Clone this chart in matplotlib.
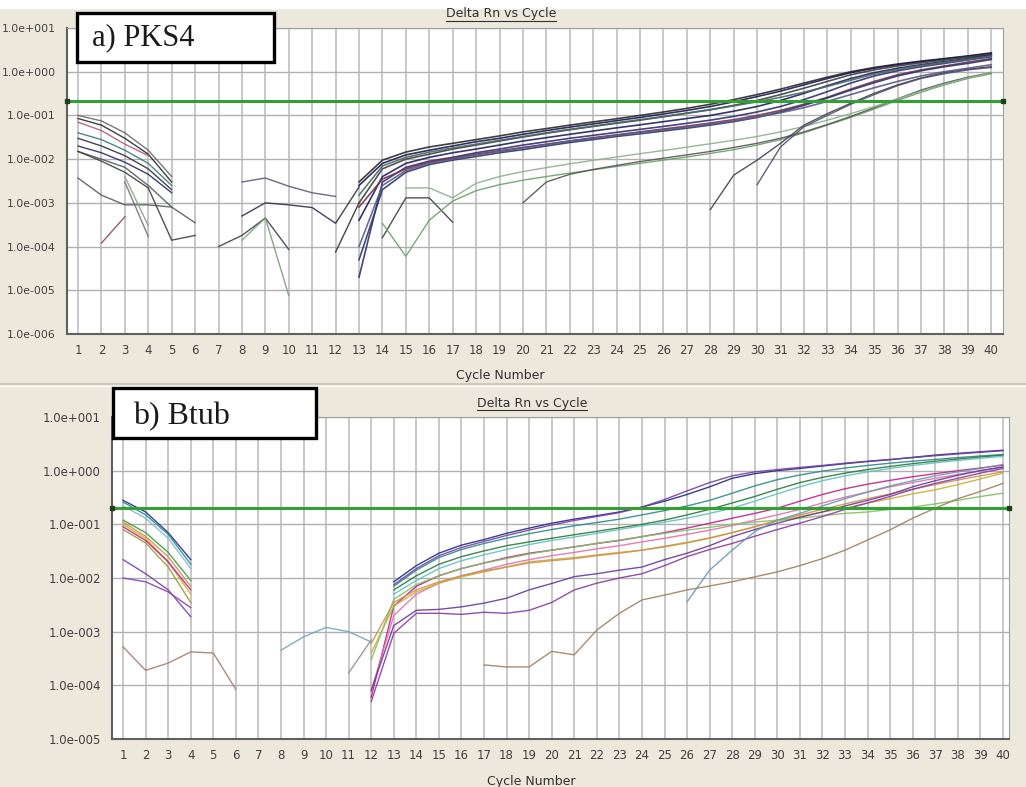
import matplotlib
matplotlib.use("Agg")
import matplotlib.pyplot as plt
from matplotlib.lines import Line2D
from matplotlib.patches import Rectangle
import numpy as np

W, H = 1026, 787

# ---- data: (first cycle, Delta Rn values) ----
cycles = np.arange(1, 41)
threshold_pks4 = 0.21
threshold_btub = 0.20

pks4_early = [
    (1, [0.10, 0.075, 0.040, 0.016, 0.004]),
    (1, [0.085, 0.060, 0.030, 0.013, 0.003]),
    (1, [0.070, 0.045, 0.022, 0.012]),
    (1, [0.040, 0.028, 0.016, 0.008, 0.0025]),
    (1, [0.030, 0.020, 0.012, 0.006, 0.0020]),
    (1, [0.020, 0.014, 0.0085, 0.0045, 0.0017]),
    (1, [0.015, 0.010, 0.0065, 0.0025, 0.0008]),
    (1, [0.0037, 0.0015, 0.0009, 0.0009, 0.0008, 0.00035]),
    (1, [0.015, 0.009, 0.005, 0.0022, 0.00014, 0.00018]),
    (3, [0.004, 0.0003]),
    (3, [0.003, 0.00017]),
    (2, [0.00012, 0.00048]),
]
pks4_middle = [
    (7, [0.0001, 0.00018, 0.00045, 0.000086]),
    (8, [0.00014, 0.00045, 0.0000076]),
    (8, [0.0005, 0.0010, 0.0009, 0.00078, 0.00034, 0.0023]),
    (8, [0.003, 0.0037, 0.0024, 0.0017, 0.0014]),
    (12, [0.000075, 0.0010]),
    (14, [0.00016, 0.0013, 0.0013, 0.00036]),
]
pks4_main = [
    (13, [0.0030, 0.0095, 0.0145, 0.019, 0.023, 0.028, 0.034, 0.042, 0.050, 0.060, 0.071, 0.084, 0.100, 0.120,
          0.145, 0.180, 0.230, 0.300, 0.400, 0.550, 0.750, 1.000, 1.250, 1.500, 1.750, 2.000, 2.300, 2.700]),
    (13, [0.0025, 0.0080, 0.0125, 0.016, 0.020, 0.025, 0.030, 0.037, 0.045, 0.054, 0.064, 0.076, 0.090, 0.108,
          0.130, 0.160, 0.205, 0.270, 0.360, 0.500, 0.700, 0.950, 1.200, 1.450, 1.700, 1.950, 2.250, 2.600]),
    (13, [0.0010, 0.0060, 0.0100, 0.013, 0.017, 0.021, 0.026, 0.032, 0.039, 0.047, 0.056, 0.066, 0.078, 0.093,
          0.112, 0.135, 0.170, 0.220, 0.300, 0.420, 0.600, 0.850, 1.100, 1.350, 1.600, 1.850, 2.150, 2.500]),
    (13, [0.0004, 0.0040, 0.0080, 0.011, 0.014, 0.017, 0.021, 0.026, 0.031, 0.037, 0.044, 0.052, 0.061, 0.072,
          0.085, 0.100, 0.125, 0.160, 0.220, 0.320, 0.480, 0.700, 0.950, 1.200, 1.450, 1.700, 2.000, 2.400]),
    (13, [0.00002, 0.0030, 0.0065, 0.009, 0.011, 0.014, 0.017, 0.021, 0.025, 0.030, 0.035, 0.041, 0.048, 0.056,
          0.066, 0.078, 0.095, 0.120, 0.160, 0.230, 0.350, 0.550, 0.800, 1.050, 1.300, 1.550, 1.850, 2.200]),
    (13, [0.0008, 0.0035, 0.0060, 0.0085, 0.0105, 0.013, 0.0155, 0.0185, 0.022, 0.026, 0.031, 0.036, 0.042, 0.049,
          0.057, 0.067, 0.080, 0.100, 0.130, 0.180, 0.260, 0.400, 0.600, 0.850, 1.100, 1.350, 1.650, 2.000]),
    (13, [0.00005, 0.0020, 0.0050, 0.0075, 0.0095, 0.0115, 0.0140, 0.0165, 0.020, 0.024, 0.028, 0.033, 0.038, 0.044,
          0.051, 0.060, 0.072, 0.090, 0.120, 0.170, 0.250, 0.380, 0.560, 0.800, 1.050, 1.300, 1.550, 1.900]),
    (13, [0.0015, 0.0070, 0.0110, 0.0145, 0.018, 0.022, 0.027, 0.033, 0.040, 0.048, 0.057, 0.068, 0.080, 0.095,
          0.113, 0.135, 0.165, 0.205, 0.260, 0.340, 0.460, 0.640, 0.880, 1.120, 1.380, 1.620, 1.900, 2.300]),
    (13, [0.0001, 0.0025, 0.0055, 0.0080, 0.0100, 0.0125, 0.0150, 0.0180, 0.0215, 0.026, 0.030, 0.035, 0.041, 0.047,
          0.054, 0.063, 0.075, 0.092, 0.115, 0.150, 0.210, 0.300, 0.430, 0.600, 0.800, 1.000, 1.200, 1.450]),
]
pks4_late = [
    (14, [0.00034, 0.00006, 0.0004, 0.0011, 0.0019, 0.0026, 0.0033, 0.0040, 0.0048, 0.0057, 0.0068, 0.0080, 0.0095,
          0.0112, 0.0135, 0.0165, 0.021, 0.028, 0.040, 0.060, 0.090, 0.140, 0.220, 0.340, 0.500, 0.700, 0.900]),
    (20, [0.0010, 0.0030, 0.0045, 0.0058, 0.0072, 0.0088, 0.0105, 0.0125, 0.0150, 0.0185, 0.023, 0.030, 0.042,
          0.062, 0.095, 0.150, 0.240, 0.380, 0.550, 0.750, 0.950]),
    (15, [0.0022, 0.0022, 0.0013, 0.0028, 0.0040, 0.0052, 0.0064, 0.0078, 0.0094, 0.0112, 0.0133, 0.0158, 0.0188,
          0.0225, 0.0270, 0.0330, 0.042, 0.056, 0.078, 0.110, 0.160, 0.240, 0.360, 0.520, 0.720, 0.950]),
    (28, [0.0007, 0.0043, 0.0095, 0.023, 0.060, 0.11, 0.19, 0.32, 0.50, 0.72, 0.95, 1.15, 1.3]),
    (30, [0.0026, 0.019, 0.055, 0.10, 0.18, 0.30, 0.48, 0.70, 0.90, 1.1, 1.25]),
]

btub_early = [
    (1, [0.28, 0.17, 0.07, 0.022]),
    (1, [0.26, 0.15, 0.065, 0.018]),
    (1, [0.22, 0.13, 0.055, 0.015]),
    (1, [0.12, 0.07, 0.030, 0.009]),
    (1, [0.11, 0.06, 0.025, 0.007]),
    (1, [0.10, 0.055, 0.020, 0.005]),
    (1, [0.09, 0.05, 0.020, 0.006]),
    (1, [0.08, 0.045, 0.016, 0.0035]),
    (1, [0.022, 0.012, 0.006, 0.0019]),
    (1, [0.010, 0.0085, 0.0055, 0.0028]),
    (1, [0.00052, 0.00019, 0.00026, 0.00042, 0.0004, 0.000084]),
    (8, [0.00045, 0.0008, 0.0012, 0.0010, 0.00064]),
    (11, [0.00017, 0.0007]),
]
btub_main = [
    (13, [0.0085, 0.017, 0.029, 0.041, 0.052, 0.068, 0.085, 0.105, 0.125, 0.145, 0.17, 0.21, 0.27, 0.36, 0.50,
          0.72, 0.88, 1.0, 1.1, 1.22, 1.35, 1.48, 1.6, 1.77, 1.95, 2.1, 2.25, 2.4]),
    (13, [0.0075, 0.015, 0.026, 0.037, 0.048, 0.062, 0.078, 0.097, 0.118, 0.14, 0.165, 0.21, 0.29, 0.42, 0.60,
          0.80, 0.95, 1.05, 1.15, 1.25, 1.38, 1.5, 1.62, 1.75, 1.9, 2.05, 2.2, 2.35]),
    (13, [0.007, 0.014, 0.024, 0.034, 0.044, 0.055, 0.067, 0.08, 0.094, 0.108, 0.125, 0.15, 0.18, 0.22, 0.28,
          0.38, 0.52, 0.68, 0.83, 0.98, 1.12, 1.25, 1.38, 1.5, 1.62, 1.75, 1.88, 2.0]),
    (13, [0.006, 0.011, 0.018, 0.025, 0.032, 0.040, 0.047, 0.055, 0.064, 0.074, 0.086, 0.1, 0.12, 0.15, 0.19,
          0.25, 0.33, 0.45, 0.6, 0.75, 0.9, 1.05, 1.2, 1.35, 1.5, 1.65, 1.8, 1.95]),
    (13, [0.005, 0.009, 0.015, 0.021, 0.027, 0.034, 0.042, 0.05, 0.058, 0.068, 0.08, 0.094, 0.11, 0.13, 0.16,
          0.2, 0.27, 0.37, 0.5, 0.65, 0.8, 0.95, 1.1, 1.25, 1.4, 1.55, 1.7, 1.85]),
    (12, [0.00006, 0.003, 0.007, 0.011, 0.015, 0.019, 0.024, 0.029, 0.033, 0.038, 0.044, 0.05, 0.059, 0.07, 0.085,
          0.105, 0.13, 0.16, 0.2, 0.27, 0.36, 0.46, 0.56, 0.66, 0.77, 0.88, 1.0, 1.12, 1.27]),
    (12, [0.00008, 0.002, 0.005, 0.008, 0.011, 0.014, 0.018, 0.022, 0.026, 0.03, 0.035, 0.04, 0.047, 0.055, 0.065,
          0.078, 0.095, 0.12, 0.15, 0.19, 0.25, 0.32, 0.4, 0.5, 0.6, 0.72, 0.85, 1.0, 1.15]),
    (12, [0.0004, 0.003, 0.0055, 0.008, 0.0105, 0.013, 0.016, 0.02, 0.022, 0.024, 0.027, 0.03, 0.033, 0.038, 0.045,
          0.055, 0.07, 0.09, 0.115, 0.14, 0.17, 0.2, 0.25, 0.3, 0.37, 0.44, 0.55, 0.7, 0.9]),
    (12, [0.0006, 0.0035, 0.006, 0.0085, 0.011, 0.0135, 0.016, 0.019, 0.021, 0.023, 0.026, 0.029, 0.033, 0.039,
          0.046, 0.056, 0.07, 0.09, 0.12, 0.15, 0.19, 0.24, 0.3, 0.37, 0.45, 0.55, 0.67, 0.8, 0.95]),
    (12, [0.0003, 0.004, 0.0075, 0.011, 0.015, 0.019, 0.023, 0.028, 0.033, 0.038, 0.044, 0.051, 0.059, 0.068,
          0.078, 0.088, 0.1, 0.11, 0.12, 0.13, 0.145, 0.16, 0.17, 0.19, 0.21, 0.24, 0.28, 0.33, 0.38]),
    (12, [0.00008, 0.0013, 0.0025, 0.0026, 0.0029, 0.0034, 0.0042, 0.006, 0.0079, 0.0106, 0.012, 0.014, 0.016,
          0.022, 0.029, 0.04, 0.059, 0.08, 0.105, 0.135, 0.17, 0.22, 0.28, 0.36, 0.5, 0.65, 0.82, 1.0, 1.18]),
    (12, [0.00005, 0.00093, 0.0022, 0.0022, 0.0021, 0.0023, 0.0022, 0.0025, 0.0035, 0.006, 0.008, 0.01, 0.012,
          0.017, 0.025, 0.034, 0.044, 0.06, 0.08, 0.105, 0.14, 0.19, 0.25, 0.33, 0.45, 0.58, 0.72, 0.9, 1.1]),
    (17, [0.00024, 0.00022, 0.00022, 0.00043, 0.00037, 0.00107, 0.0022, 0.0039, 0.0048, 0.006, 0.0071, 0.0085,
          0.0105, 0.013, 0.017, 0.023, 0.033, 0.051, 0.079, 0.13, 0.2, 0.3, 0.41, 0.58]),
    (26, [0.0036, 0.014, 0.033, 0.073, 0.12, 0.16, 0.22, 0.3, 0.4, 0.52, 0.65, 0.8, 0.95, 1.1, 1.3]),
]

pks4_ticks = [1e-6, 1e-5, 1e-4, 1e-3, 1e-2, 1e-1, 1e0, 1e1]
pks4_ticklabels = ["1.0e-006", "1.0e-005", "1.0e-004", "1.0e-003", "1.0e-002", "1.0e-001", "1.0e+000", "1.0e+001"]
btub_ticks = [1e-5, 1e-4, 1e-3, 1e-2, 1e-1, 1e0, 1e1]
btub_ticklabels = ["1.0e-005", "1.0e-004", "1.0e-003", "1.0e-002", "1.0e-001", "1.0e+000", "1.0e+001"]

# ---- colours (styles kept apart from the data) ----
pks4_early_colors = ["#6a6a6a", "#2a2a2a", "#b05a80", "#3a7a7a", "#303040", "#2a2a60", "#505a60",
                     "#5a5a5a", "#404040", "#8aa08a", "#6a7a6a", "#8a4a5a"]
pks4_middle_colors = ["#404050", "#7aa07a", "#303048", "#5a5a7a", "#303030", "#404040"]
pks4_main_colors = ["#2a2a2a", "#1a1a50", "#404040", "#20205a", "#303070", "#7a3050", "#2a3a6a",
                    "#4a6a6a", "#5a5a8a"]
pks4_late_colors = ["#6aa06a", "#555555", "#8ab08a", "#404050", "#50506a"]

btub_early_colors = ["#1f2a8a", "#2a8a8a", "#80b8d8", "#3a9a4a", "#d09050", "#c8b030", "#c0208a",
                     "#9a9a30", "#7a40a0", "#8a40b0", "#a08070", "#70a8b8", "#909090"]
btub_main_colors = ["#1f2a8a", "#7a40a0", "#2a8a8a", "#2a7a3a", "#60c0c0", "#c0208a", "#e070a8",
                    "#c8b030", "#d09050", "#80c060", "#6a3a9a", "#8a3aa0", "#a08060", "#6a9ab0"]


def px_x(x):
    return x / W


def px_y(y):
    return 1 - y / H


def style_axes(ax, xlim, ticks, ticklabels, ysize):
    ax.set_facecolor("white")
    ax.set_yscale("log")
    ax.set_xlim(*xlim)
    ax.set_ylim(ticks[0], ticks[-1])
    ax.set_xticks(cycles)
    ax.set_xticklabels([str(c) for c in cycles], fontsize=8.5, color="#404040")
    ax.set_yticks(ticks)
    ax.set_yticklabels(ticklabels, fontsize=ysize, color="#404040")
    ax.yaxis.set_minor_locator(matplotlib.ticker.NullLocator())
    ax.tick_params(axis="both", length=0)
    ax.tick_params(axis="y", pad=8)
    ax.tick_params(axis="x", pad=7)
    ax.grid(True, axis="x", color="#c4c4c4", linewidth=1.3)
    ax.grid(True, axis="y", color="#b0b0b0", linewidth=1.0)
    ax.set_axisbelow(True)
    for side in ["top", "right"]:
        ax.spines[side].set_color("#a0a0a0")
    for side in ["left", "bottom"]:
        ax.spines[side].set_color("#606060")
        ax.spines[side].set_linewidth(1.5)


def draw_series(ax, series, colors, lw=1.0):
    for (start, vals), col in zip(series, colors):
        x = np.arange(start, start + len(vals))
        ax.plot(x, vals, color=col, linewidth=lw, alpha=0.9)


def draw_threshold(ax, thr):
    ax.axhline(thr, color="#33a033", linewidth=2.2, zorder=5)
    x0, x1 = ax.get_xlim()
    ax.plot([x0, x1], [thr, thr], linestyle="none", marker="s", markersize=3,
            color="#204020", clip_on=False, zorder=6)


def underlined_text(fig, x, y, s):
    t = fig.text(px_x(x), px_y(y), s, ha="center", va="center", fontsize=9, color="#303030")
    fig.canvas.draw()
    bb = t.get_window_extent().transformed(fig.transFigure.inverted())
    fig.add_artist(Line2D([bb.x0, bb.x1], [bb.y0 - 0.001, bb.y0 - 0.001], transform=fig.transFigure,
                          color="#303030", linewidth=0.8))


fig = plt.figure(figsize=(W / 100, H / 100), dpi=100, facecolor="#ECE9DC")

# white strip at the top and the divider between the two panels
fig.add_artist(Rectangle((0, px_y(8)), 1, 8 / H, transform=fig.transFigure, color="white", zorder=0))
fig.add_artist(Line2D([0, 1], [px_y(384), px_y(384)], transform=fig.transFigure, color="#c8c4b4", linewidth=1.2))
fig.add_artist(Line2D([0, 1], [px_y(386), px_y(386)], transform=fig.transFigure, color="#ffffff", linewidth=1.0))

# ---- a) PKS4 ----
ax1 = fig.add_axes([px_x(67), px_y(334), (1003 - 67) / W, (334 - 28) / H])
style_axes(ax1, (0.53, 40.5), pks4_ticks, pks4_ticklabels, 7.8)
draw_series(ax1, pks4_early, pks4_early_colors)
draw_series(ax1, pks4_middle, pks4_middle_colors)
draw_series(ax1, pks4_late, pks4_late_colors)
draw_series(ax1, pks4_main, pks4_main_colors, lw=1.2)
draw_threshold(ax1, threshold_pks4)

# ---- b) Btub ----
ax2 = fig.add_axes([px_x(112), px_y(739), (1009 - 112) / W, (739 - 417) / H])
style_axes(ax2, (0.51, 40.27), btub_ticks, btub_ticklabels, 8.5)
draw_series(ax2, btub_early, btub_early_colors)
draw_series(ax2, btub_main, btub_main_colors)
draw_threshold(ax2, threshold_btub)

# axis texts
fig.text(px_x(500), px_y(375), "Cycle Number", ha="center", va="center", fontsize=9, color="#303030")
fig.text(px_x(531), px_y(782), "Cycle Number", ha="center", va="center", fontsize=9, color="#303030")
underlined_text(fig, 501, 14, "Delta Rn vs Cycle")
underlined_text(fig, 532, 403, "Delta Rn vs Cycle")

# panel label boxes
for (x0, y0, x1, y1), label, tx, ty, fs in [((77, 13, 274, 62), "a) PKS4", 92, 45, 22),
                                              ((113, 388, 316, 438), "b) Btub", 133, 424, 23)]:
    fig.add_artist(Rectangle((px_x(x0), px_y(y1)), (x1 - x0) / W, (y1 - y0) / H, transform=fig.transFigure,
                             facecolor="white", edgecolor="black", linewidth=2.4, zorder=10))
    fig.text(px_x(tx), px_y(ty), label, ha="left", va="baseline", fontsize=fs,
             family="Liberation Serif", color="#1a1a1a", zorder=11)

fig.savefig("out.png", dpi=100, facecolor=fig.get_facecolor())
